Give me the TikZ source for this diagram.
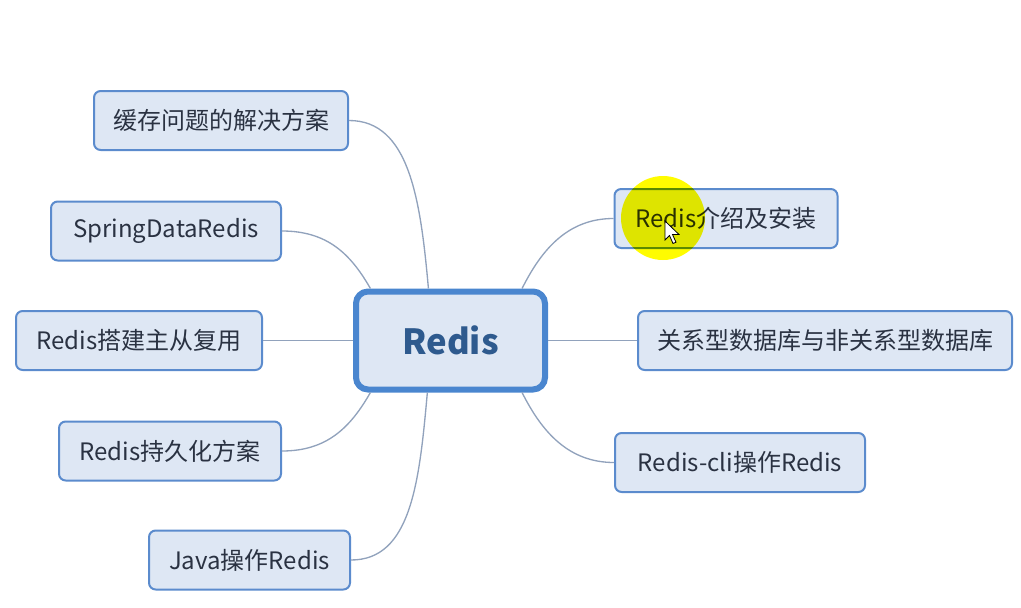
\documentclass[tikz,border=0pt]{standalone}
\usepackage{fontspec}
\setmainfont{Noto Sans CJK SC}

\definecolor{boxfill}{RGB}{222,231,244}
\definecolor{boxline}{RGB}{91,139,205}
\definecolor{rootline}{RGB}{74,134,207}
\definecolor{linkline}{RGB}{145,162,188}
\definecolor{topictxt}{RGB}{42,50,66}
\definecolor{roottxt}{RGB}{46,90,142}
\definecolor{hilite}{RGB}{255,252,0}

\tikzset{every picture/.style={line width=0.75pt}}
\tikzset{
  topic/.style={draw=boxline, fill=boxfill, line width=1.5pt, rounded corners=5pt,
    minimum height=44.25pt, inner sep=0pt, text=topictxt,
    font=\fontsize{18}{21}\selectfont},
  root/.style={draw=rootline, fill=boxfill, line width=4.5pt, rounded corners=9pt,
    minimum width=141.75pt, minimum height=73.5pt, inner sep=0pt, text=roottxt,
    font=\fontsize{26}{30}\selectfont\bfseries},
  link/.style={draw=linkline, line width=1pt}
}

\begin{document}
\begin{tikzpicture}[x=0.75pt,y=0.75pt,yscale=-1,xscale=1]
\useasboundingbox (0,0) rectangle (1021,607);

% centre
\node [root] (redis) at (450.5,340.5) {Redis};

% left branches
\node [topic, minimum width=190.5pt] (cache) at (221,120.5) {缓存问题的解决方案};
\node [topic, minimum width=172.5pt] (spring) at (166,231) {SpringDataRedis};
\node [topic, minimum width=184.5pt] (master) at (139,340.5) {Redis搭建主从复用};
\node [topic, minimum width=166.5pt] (persist) at (170,451) {Redis持久化方案};
\node [topic, minimum width=150.75pt] (java) at (249.5,560) {Java操作Redis};

% right branches
\node [topic, minimum width=167.25pt] (intro) at (726,218.5) {Redis介绍及安装};
\node [topic, minimum width=280.5pt] (sqlnosql) at (825,340.5) {关系型数据库与非关系型数据库};
\node [topic, minimum width=187.5pt] (cli) at (740,462.5) {Redis-cli操作Redis};

% links
\draw [link] (redis.113) .. controls +(-8,-90) and +(60,0) .. (cache.east);
\draw [link] (redis.147) .. controls +(-20,-35) and +(45,0) .. (spring.east);
\draw [link] (redis.west) -- (master.east);
\draw [link] (redis.213) .. controls +(-20,35) and +(45,0) .. (persist.east);
\draw [link] (redis.246) .. controls +(-8,90) and +(60,0) .. (java.east);
\draw [link] (redis.36) .. controls +(20,-40) and +(-45,0) .. (intro.west);
\draw [link] (redis.east) -- (sqlnosql.west);
\draw [link] (redis.-36) .. controls +(20,40) and +(-45,0) .. (cli.west);

% pointer highlight
\begin{scope}[blend mode=multiply]
\fill [hilite] (663,218) circle [radius=42];
\end{scope}
\filldraw [fill=white, draw=black, line width=0.6pt] (665,221) -- ++(0,19) -- ++(4.5,-4.5) -- ++(3.5,8) -- ++(3,-1.3) -- ++(-3.5,-7.7) -- ++(6.5,0) -- cycle;

\end{tikzpicture}
\end{document}
